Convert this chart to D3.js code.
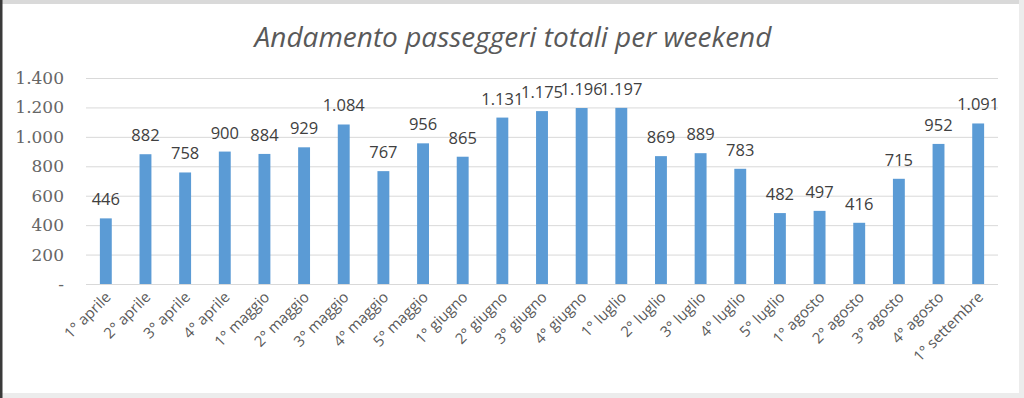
<!DOCTYPE html>
<html><head><meta charset="utf-8">
<script src="https://cdn.jsdelivr.net/npm/d3@7"></script>
<style>html,body{margin:0;padding:0;background:#fff;}svg{display:block;}</style>
</head><body>
<script>
const categories = ["1° aprile","2° aprile","3° aprile","4° aprile","1° maggio","2° maggio","3° maggio","4° maggio","5° maggio","1° giugno","2° giugno","3° giugno","4° giugno","1° luglio","2° luglio","3° luglio","4° luglio","5° luglio","1° agosto","2° agosto","3° agosto","4° agosto","1° settembre"];
const values = [446,882,758,900,884,929,1084,767,956,865,1131,1175,1196,1197,869,889,783,482,497,416,715,952,1091];
const yTicks = [0,200,400,600,800,1000,1200,1400];
const title = "Andamento passeggeri totali per weekend";

const W = 1024, H = 398;
const svg = d3.select("body").append("svg").attr("width", W).attr("height", H);

// frame
svg.append("rect").attr("x",0).attr("y",0).attr("width",W).attr("height",H).attr("fill","#fff");
svg.append("rect").attr("x",0).attr("y",0).attr("width",W).attr("height",4).attr("fill","#d9d9d9");
svg.append("rect").attr("x",0).attr("y",393).attr("width",W).attr("height",5).attr("fill","#ececec");
svg.append("rect").attr("x",0).attr("y",0).attr("width",2.5).attr("height",H).attr("fill","#3a3a3a");
svg.append("rect").attr("x",1019).attr("y",0).attr("width",5).attr("height",H).attr("fill","#ececec");

const fmt = v => v === 0 ? "-" : d3.format(",")(v).replace(/,/g, ".");

const x = d3.scaleBand().domain(categories).range([86, 998]).paddingInner(0.7).paddingOuter(0.35);
const y = d3.scaleLinear().domain([0, 1400]).range([284, 78]);

// title
svg.append("text").attr("x", 513).attr("y", 47).attr("text-anchor","middle")
  .attr("font-family","'Open Sans', sans-serif").attr("font-style","italic")
  .attr("font-size", 28).attr("font-weight",500).attr("fill","#595959").text(title);

// gridlines
const yAxis = d3.axisLeft(y).tickValues(yTicks).tickSize(-(998-86)).tickFormat(fmt).tickPadding(22);
const gy = svg.append("g").attr("transform","translate(86,0)").call(yAxis);
gy.select(".domain").remove();
gy.selectAll(".tick line").attr("stroke","#d9d9d9").attr("stroke-width",1);
gy.selectAll(".tick text").attr("font-family","'DejaVu Serif', serif").attr("font-size",17).attr("fill","#666");

// bars
svg.append("g").selectAll("rect").data(values).join("rect")
  .attr("x",(d,i)=>x(categories[i])).attr("width", x.bandwidth())
  .attr("y", d=>y(d)).attr("height", d=>y(0)-y(d)).attr("fill","#5b9bd5");

// data labels
svg.append("g").selectAll("text").data(values).join("text")
  .attr("x",(d,i)=>x(categories[i]) + x.bandwidth()/2).attr("y", d=>y(d)-13)
  .attr("text-anchor","middle").attr("font-family","'Open Sans', sans-serif")
  .attr("font-size",16.5).attr("font-weight",500).attr("fill","#404040").text(d=>fmt(d));

// x axis
const xAxis = d3.axisBottom(x).tickSize(0).tickPadding(0);
const gx = svg.append("g").attr("transform","translate(0,284)").call(xAxis);
gx.select(".domain").remove();
gx.selectAll(".tick text")
  .attr("font-family","'Open Sans', sans-serif").attr("font-size",15).attr("fill","#595959")
  .attr("text-anchor","end").attr("dy",0).attr("y",0)
  .attr("transform","translate(6,14) rotate(-45)");
</script>
</body></html>
